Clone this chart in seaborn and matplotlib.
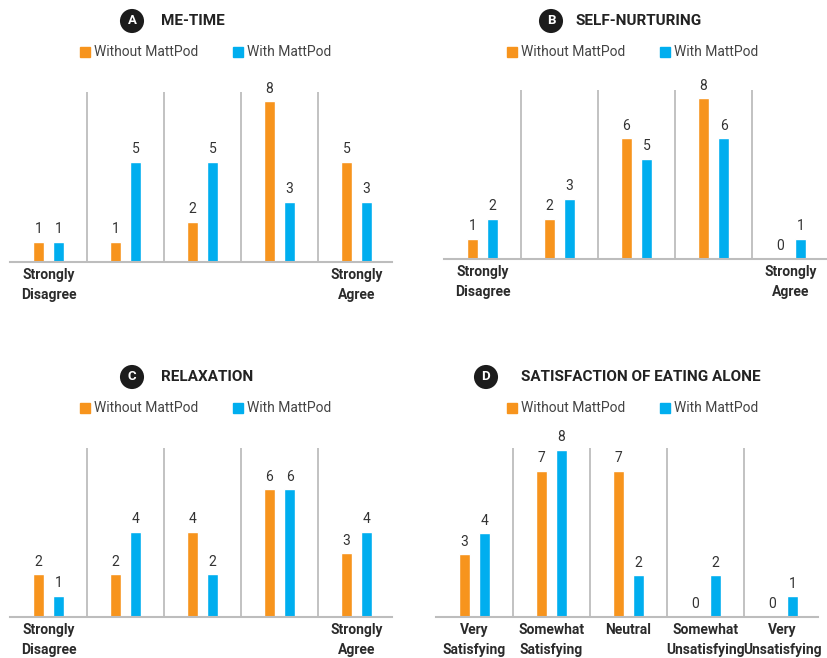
import pandas as pd
import seaborn as sns
import matplotlib.pyplot as plt
from matplotlib.patches import Rectangle

series = ["Without MattPod", "With MattPod"]
colors = ["#F7941D", "#00AEEF"]

levels = ["1", "2", "3", "4", "5"]
likert_labels = ["Strongly\nDisagree", "", "", "", "Strongly\nAgree"]
satisfaction_labels = ["Very\nSatisfying", "Somewhat\nSatisfying", "Neutral",
                       "Somewhat\nUnsatisfying", "Very\nUnsatisfying"]

me_time_without = [1, 1, 2, 8, 5]
me_time_with = [1, 5, 5, 3, 3]
nurturing_without = [1, 2, 6, 8, 0]
nurturing_with = [2, 3, 5, 6, 1]
relax_without = [2, 2, 4, 6, 3]
relax_with = [1, 4, 2, 6, 4]
eating_without = [3, 7, 7, 0, 0]
eating_with = [4, 8, 2, 2, 1]

W, H = 828, 658

# badge, title, values, tick labels, pixel layout
panels = [
    ("A", "ME-TIME", me_time_without, me_time_with, likert_labels,
     dict(left=10, right=392, base=262, top=92, ppu=20.1, badge=(132, 21), title=161,
          leg=(80, 233), leg_y=52)),
    ("B", "SELF-NURTURING", nurturing_without, nurturing_with, likert_labels,
     dict(left=444, right=826, base=259, top=90, ppu=20.1, badge=(551, 21), title=576,
          leg=(507, 660), leg_y=52)),
    ("C", "RELAXATION", relax_without, relax_with, likert_labels,
     dict(left=10, right=392, base=617, top=448, ppu=21.3, badge=(132, 377), title=161,
          leg=(80, 233), leg_y=408)),
    ("D", "SATISFACTION OF EATING ALONE", eating_without, eating_with, satisfaction_labels,
     dict(left=436, right=818, base=617, top=448, ppu=20.9, badge=(486, 377), title=521,
          leg=(507, 660), leg_y=408)),
]

sns.set_style("white")
plt.rcParams['font.family'] = ['Roboto', 'DejaVu Sans']

fig = plt.figure(figsize=(W / 100, H / 100), dpi=100)


def fx(px):
    return px / W


def fy(py):
    return 1 - py / H


for badge, title, without, with_, ticklabels, lay in panels:
    ax = fig.add_axes([fx(lay["left"]), fy(lay["base"]),
                       (lay["right"] - lay["left"]) / W, (lay["base"] - lay["top"]) / H])
    df = pd.DataFrame({
        "level": levels * 2,
        "series": [series[0]] * 5 + [series[1]] * 5,
        "count": without + with_,
    })
    sns.barplot(data=df, x="level", y="count", hue="series", hue_order=series,
                palette=colors, order=levels, width=0.52, gap=0.45,
                saturation=1, legend=False, ax=ax)
    for cont in ax.containers:
        ax.bar_label(cont, fmt="%d", padding=4, fontsize=10, color="#333333")

    ax.set_xlim(-0.5, -0.5 + (lay["right"] - lay["left"]) / 77)
    ax.set_ylim(0, (lay["base"] - lay["top"]) / lay["ppu"])
    for xs in [0.5, 1.5, 2.5, 3.5]:
        ax.axvline(xs, color="#BDBDBD", lw=1.3, zorder=0)
    sns.despine(ax=ax, left=True)
    ax.spines["bottom"].set_color("#BDBDBD")
    ax.spines["bottom"].set_linewidth(1.5)
    ax.set_yticks([])
    ax.set_xlabel("")
    ax.set_ylabel("")
    ax.set_xticks(range(5))
    ax.set_xticklabels(ticklabels, fontsize=10, fontweight="bold", color="#2b2b2b",
                       linespacing=1.5)
    ax.tick_params(axis="x", length=0, pad=4.5)

    # badge + title
    bx, by = lay["badge"]
    fig.text(fx(bx), fy(by), badge, ha="center", va="center", fontsize=9.5,
             fontweight="bold", color="white",
             bbox=dict(boxstyle="circle,pad=0.42", fc="#1c1c1c", ec="none"))
    fig.text(fx(lay["title"]), fy(by), title, ha="left", va="center", fontsize=11,
             fontweight="bold", color="#222222")

    # legend
    for lx, name, col in zip(lay["leg"], series, colors):
        fig.patches.append(Rectangle((fx(lx), fy(lay["leg_y"] + 5)), 10 / W, 10 / H,
                                     transform=fig.transFigure, color=col))
        fig.text(fx(lx + 14), fy(lay["leg_y"]), name, ha="left", va="center",
                 fontsize=10, color="#444444")

plt.savefig("out.png", dpi=100)
